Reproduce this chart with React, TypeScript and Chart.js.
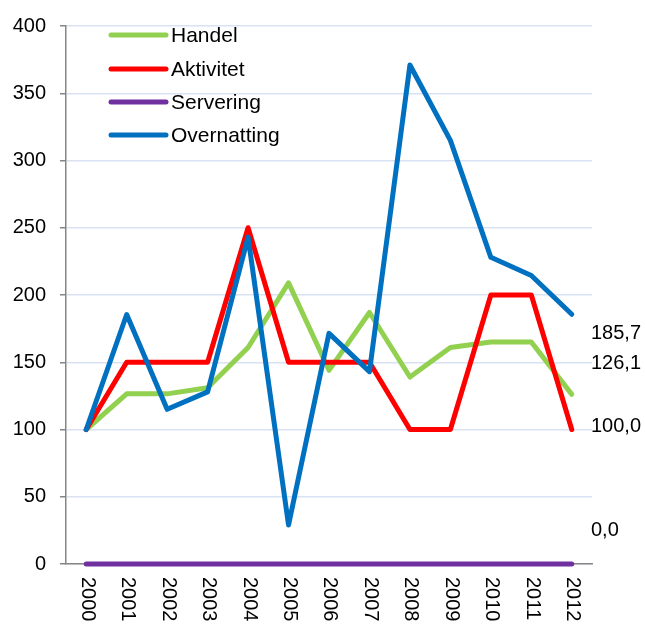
import React, { useEffect, useRef } from "react";
import { Chart, registerables } from "chart.js";

Chart.register(...registerables);

const years = ["2000", "2001", "2002", "2003", "2004", "2005", "2006", "2007", "2008", "2009", "2010", "2011", "2012"];
const handel = [100, 126.5, 126.5, 131, 161, 209, 144, 187, 139, 161, 165, 165, 126.1];
const aktivitet = [100, 150, 150, 150, 250, 150, 150, 150, 100, 100, 200, 200, 100];
const servering = [0, 0, 0, 0, 0, 0, 0, 0, 0, 0, 0, 0, 0];
const overnatting = [100, 185.5, 115, 128, 243, 29, 171.5, 143, 371, 315, 228, 214.5, 185.7];
const yTicks = [0, 50, 100, 150, 200, 250, 300, 350, 400];
const endLabels = ["185,7", "126,1", "100,0", "0,0"];

const seriesNames = ["Handel", "Aktivitet", "Servering", "Overnatting"];
const seriesColors = ["#92D050", "#FF0000", "#7030A0", "#0070C0"];

const FONT = "'Liberation Sans', Arial, sans-serif";

export default function App() {
  const canvasRef = useRef<HTMLCanvasElement | null>(null);

  useEffect(() => {
    const canvas = canvasRef.current;
    if (!canvas) return;

    const overlay = {
      id: "overlay",
      afterDraw(chart: any) {
        const ctx = chart.ctx;
        const area = chart.chartArea;
        const xs = chart.scales.x;
        const ys = chart.scales.y;
        ctx.save();
        // x labels rotated clockwise
        ctx.fillStyle = "#000";
        ctx.font = `20px ${FONT}`;
        ctx.textAlign = "left";
        ctx.textBaseline = "middle";
        years.forEach((y, i) => {
          const px = xs.getPixelForValue(i);
          ctx.save();
          ctx.translate(px + 1, area.bottom + 13);
          ctx.rotate(Math.PI / 2);
          ctx.fillText(y, 0, 0);
          ctx.restore();
        });
        // right end labels
        const labelVals = [171.2, 149, 102.6, 25];
        ctx.textAlign = "left";
        endLabels.forEach((t, i) => {
          ctx.fillText(t, area.right - 1, ys.getPixelForValue(labelVals[i]));
        });
        // legend
        ctx.font = `21px ${FONT}`;
        const rowY = [35, 69, 102, 135];
        seriesNames.forEach((n, i) => {
          const y = rowY[i];
          ctx.strokeStyle = seriesColors[i];
          ctx.lineWidth = 5;
          ctx.lineCap = "round";
          ctx.beginPath();
          ctx.moveTo(area.left + 45, y);
          ctx.lineTo(area.left + 100, y);
          ctx.stroke();
          ctx.fillStyle = "#000";
          ctx.fillText(n, area.left + 105, y + 1);
        });
        ctx.restore();
      },
    };

    const seriesData = [handel, aktivitet, servering, overnatting];
    const orders = [4, 3, 2, 1];

    const chart = new Chart(canvas, {
      type: "line",
      data: {
        labels: years,
        datasets: seriesNames.map((name, i) => ({
          label: name,
          data: seriesData[i],
          borderColor: seriesColors[i],
          backgroundColor: seriesColors[i],
          borderWidth: 5,
          borderCapStyle: "round",
          borderJoinStyle: "round",
          pointRadius: 0,
          tension: 0,
          clip: false,
          order: orders[i],
        })),
      },
      options: {
        responsive: false,
        animation: false,
        layout: { padding: { top: 22, right: 53, left: 0, bottom: 0 } },
        plugins: {
          legend: { display: false },
          tooltip: { enabled: false },
        },
        scales: {
          x: {
            offset: true,
            grid: { display: false, drawTicks: false },
            border: { color: "#868686", width: 1.5 },
            ticks: { display: false },
            afterFit(scale: any) {
              scale.height = 60;
            },
          },
          y: {
            min: 0,
            max: 400,
            afterBuildTicks(scale: any) {
              scale.ticks = yTicks.map((v) => ({ value: v }));
            },
            grid: {
              color: "#D9E2F3",
              lineWidth: 1.5,
              tickColor: "#868686",
              tickLength: 6,
            },
            border: { color: "#868686", width: 1.5 },
            ticks: {
              color: "#000",
              font: { family: FONT, size: 20 },
              padding: 14,
            },
            afterFit(scale: any) {
              scale.width = 66;
            },
          },
        },
      },
      plugins: [overlay],
    } as any);

    return () => chart.destroy();
  }, []);

  return (
    <div style={{ position: "absolute", left: 0, top: 0, width: 645, height: 624, background: "#fff" }}>
      <canvas ref={canvasRef} width={645} height={624} />
    </div>
  );
}
